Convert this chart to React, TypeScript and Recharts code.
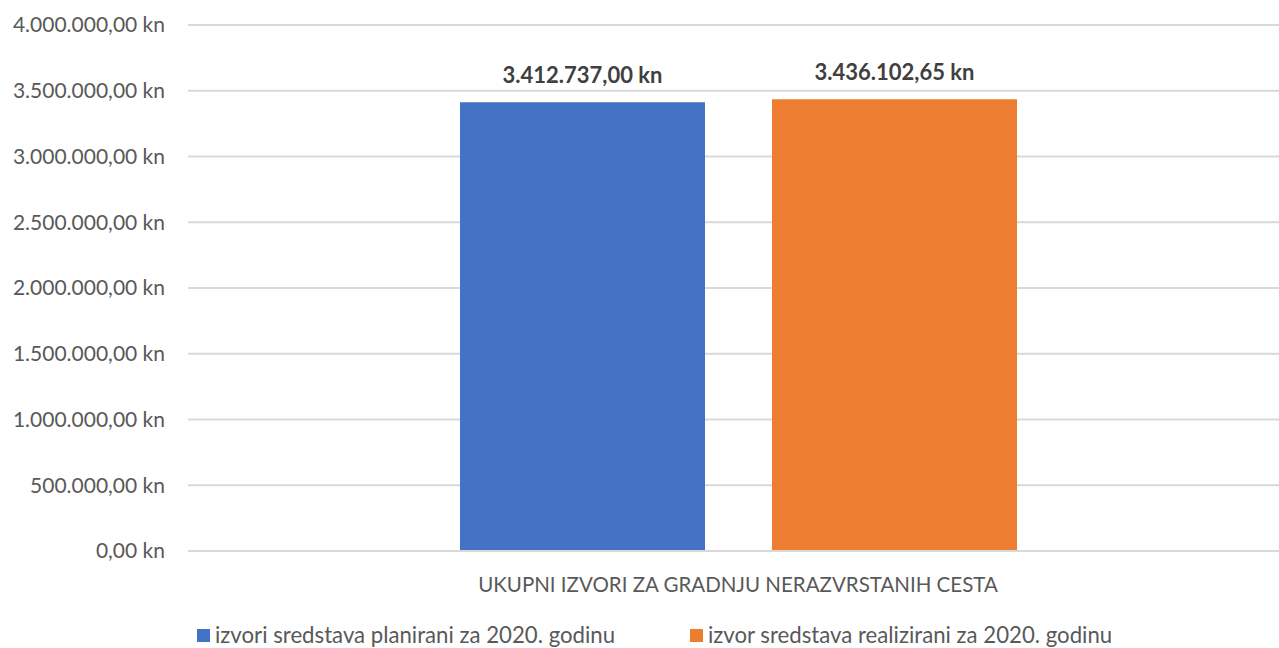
import React from 'react';
import { BarChart, Bar, XAxis, YAxis, CartesianGrid, Legend, LabelList } from 'recharts';

const categories = ['UKUPNI IZVORI ZA GRADNJU NERAZVRSTANIH CESTA'];
const plannedValues = [3412737.0];
const realizedValues = [3436102.65];
const seriesNames = ['izvori sredstava planirani za 2020. godinu', 'izvor sredstava realizirani za 2020. godinu'];
const seriesColors = ['#4472c4', '#ed7d31'];
const yTicks = [0, 500000, 1000000, 1500000, 2000000, 2500000, 3000000, 3500000, 4000000];

const data = categories.map((c, i) => ({ name: c, planned: plannedValues[i], realized: realizedValues[i] }));

const FONT = 'Lato, "Open Sans", sans-serif';

const fmt = (v: number) => {
  const fixed = v.toFixed(2);
  const [intPart, dec] = fixed.split('.');
  const withDots = intPart.replace(/\B(?=(\d{3})+(?!\d))/g, '.');
  return `${withDots},${dec} kn`;
};

const CategoryTick = (props: any) => {
  const { x, y, payload } = props;
  return (
    <text x={x} y={y + 24} dy={14.6} textAnchor="middle" fill="#595959" fontSize={20.5} fontFamily={FONT}>
      {payload.value}
    </text>
  );
};

const LegendContent = () => (
  <div style={{ position: 'relative', height: 46, fontFamily: FONT, fontSize: 22.2, color: '#595959' }}>
    {seriesNames.map((n, i) => (
      <div key={n} style={{ position: 'absolute', left: i === 0 ? 197 : 690, top: 20, display: 'flex', alignItems: 'center', whiteSpace: 'nowrap', lineHeight: '26px' }}>
        <span style={{ display: 'inline-block', width: 13, height: 13, background: seriesColors[i], marginRight: 5 }} />
        <span>{n}</span>
      </div>
    ))}
  </div>
);

export default function App() {
  return (
    <div style={{ position: 'absolute', left: 0, top: 0, background: '#fff', overflow: 'hidden', width: 1279, height: 648 }}>
      <BarChart width={1279} height={648} data={data} margin={{ top: 25, right: -9, bottom: 0, left: 0 }} barGap={67} barSize={245}>
        <CartesianGrid vertical={false} stroke="#d9d9d9" strokeWidth={2} />
        <XAxis dataKey="name" height={51} tickLine={false} tickSize={0} axisLine={{ stroke: '#d9d9d9', strokeWidth: 2 }}
          tick={<CategoryTick />} />
        <YAxis width={188} domain={[0, 4000000]} ticks={yTicks} tickFormatter={fmt} axisLine={false} tickLine={false} tickSize={0} tickMargin={23}
          tick={{ fill: '#595959', fontSize: 21, fontFamily: FONT }} />
        <Legend verticalAlign="bottom" height={46} content={<LegendContent />} />
        <Bar dataKey="planned" name={seriesNames[0]} fill={seriesColors[0]} isAnimationActive={false}>
          <LabelList dataKey="planned" position="top" offset={19} formatter={(v: any) => fmt(Number(v))}
            style={{ fill: '#404040', fontSize: 22, fontWeight: 700, fontFamily: FONT }} />
        </Bar>
        <Bar dataKey="realized" name={seriesNames[1]} fill={seriesColors[1]} isAnimationActive={false}>
          <LabelList dataKey="realized" position="top" offset={19} formatter={(v: any) => fmt(Number(v))}
            style={{ fill: '#404040', fontSize: 22, fontWeight: 700, fontFamily: FONT }} />
        </Bar>
      </BarChart>
    </div>
  );
}
